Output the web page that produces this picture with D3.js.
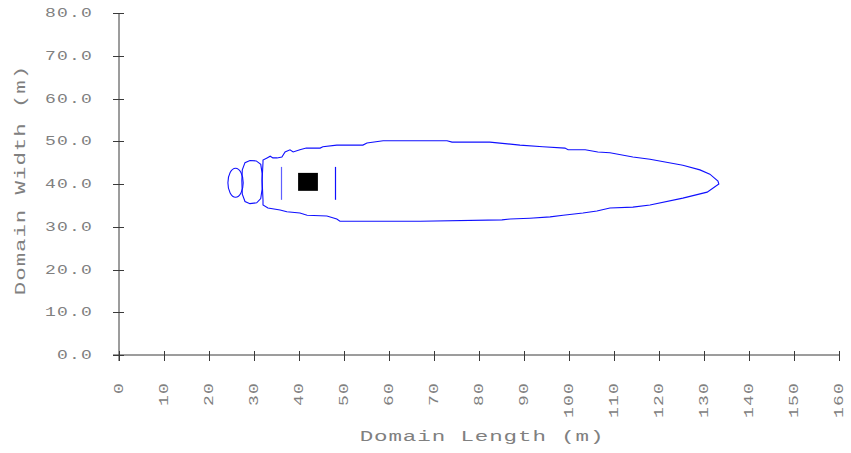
<!DOCTYPE html>
<html>
<head>
<meta charset="utf-8">
<script src="https://cdn.jsdelivr.net/npm/d3@7"></script>
<style>
  html, body { margin: 0; padding: 0; background: #fff; }
  svg { display: block; }
  .lab { font-family: "Liberation Mono", "DejaVu Sans Mono", monospace; fill: #808080; }
</style>
</head>
<body>
<svg id="chart" width="851" height="453"></svg>
<script>
/* contour plot: plume outline over a 160 x 80 m domain */
var xTicks = [0, 10, 20, 30, 40, 50, 60, 70, 80, 90, 100, 110, 120, 130, 140, 150, 160];
var yTicks = [0, 10, 20, 30, 40, 50, 60, 70, 80];
var xTitle = "Domain Length (m)", yTitle = "Domain Width (m)";

// outer contour, [length, width] in metres (closed)
var outerContour = [
  [32.0,36.3],[31.8,40.9],[32.0,45.1],[32.0,45.6],[32.9,46.1],[33.6,46.5],[34.2,46.1],
  [35.1,46.1],[36.2,46.3],[36.9,47.5],[38.0,48.0],[38.7,47.5],[40.2,48.0],[41.6,48.4],
  [44.7,48.4],[45.3,48.7],[48.4,49.1],[54.2,49.1],[55.1,49.6],[58.7,50.1],[72.9,50.1],
  [74.0,49.8],[82.4,49.8],[89.1,49.1],[94.2,48.7],[99.1,48.4],[99.8,48.0],[103.6,48.0],
  [106.4,47.5],[109.1,47.3],[114.2,46.3],[118.0,45.8],[125.3,44.4],[129.1,43.3],
  [131.3,42.3],[133.1,40.7],[133.3,40.0],[130.7,38.1],[125.3,36.7],[118.0,35.1],
  [114.2,34.6],[109.1,34.4],[106.2,33.7],[103.1,33.2],[98.7,32.7],[95.8,32.3],
  [91.3,32.0],[86.9,31.8],[85.1,31.6],[66.9,31.3],[49.1,31.3],[48.4,31.8],[46.2,32.5],
  [41.8,32.7],[40.2,33.2],[37.3,33.5],[35.8,33.9],[33.1,34.4],[32.0,35.1]
];
// small ring just upwind of the main outline
var ringContour = [
  [27.3,40.8],[27.4,43.3],[28.0,45.0],[29.1,45.5],[30.5,45.4],[31.5,44.6],[31.8,42.5],
  [31.8,38.8],[31.5,36.6],[30.6,35.6],[29.1,35.4],[28.0,35.9],[27.4,37.6]
];
// leftmost small ellipse: [cx, cy, rx, ry]
var ellipses = [[25.9, 40.3, 1.7, 3.4]];
// short vertical contour segments: [x, y0, y1]
var segments = [[35.9, 36.3, 44.0], [48.0, 36.3, 44.0]];
// source block: [x0, x1, y0, y1]
var source = [39.8, 44.2, 38.4, 42.6];

var svg = d3.select("#chart");
var x = d3.scaleLinear().domain([0, 160]).range([119, 839]);
var y = d3.scaleLinear().domain([0, 80]).range([355, 13]);
var AX = "#3a3a3a";

// the original uses a wide, light typewriter face: stretch the mono font sideways
function label(tr, txt, size, ls, anchor) {
  return svg.append("text").attr("class", "lab").attr("transform", tr + " scale(1.5,1)")
    .attr("text-anchor", anchor).attr("font-size", size).attr("letter-spacing", ls).text(txt);
}

// axis lines (they overshoot a little past the origin)
svg.append("line").attr("x1", x(0)).attr("x2", x(0)).attr("y1", y(80)).attr("y2", y(0) + 6)
  .attr("stroke", AX);
svg.append("line").attr("x1", x(0) - 6).attr("x2", x(160)).attr("y1", y(0)).attr("y2", y(0))
  .attr("stroke", AX);

yTicks.forEach(function (t) {
  svg.append("line").attr("x1", x(0) - 6).attr("x2", x(0) + 5)
    .attr("y1", Math.round(y(t)) + 0.5).attr("y2", Math.round(y(t)) + 0.5).attr("stroke", AX);
  label("translate(93," + (y(t) + 4) + ")", d3.format(".1f")(t), 12, 0.8, "end");
});
xTicks.forEach(function (t) {
  var px = Math.round(x(t)) + 0.5;
  svg.append("line").attr("x1", px).attr("x2", px).attr("y1", y(0) - 4).attr("y2", y(0) + 6)
    .attr("stroke", AX);
  label("translate(" + (x(t) + 4) + ",382) rotate(-90)", t, 12, 0.8, "end");
});

label("translate(482,441)", xTitle, 15, 0.6, "middle");
label("translate(25,180) rotate(-90)", yTitle, 15, 0.6, "middle");

// contours
var line = d3.line().x(function (d) { return x(d[0]); }).y(function (d) { return y(d[1]); })
  .curve(d3.curveLinearClosed);
var BLUE = "#1010ff";
[outerContour, ringContour].forEach(function (c) {
  svg.append("path").attr("d", line(c)).attr("fill", "none").attr("stroke", BLUE).attr("stroke-width", 1.1);
});
ellipses.forEach(function (e) {
  svg.append("ellipse").attr("cx", x(e[0])).attr("cy", y(e[1]))
    .attr("rx", x(e[2]) - x(0)).attr("ry", y(0) - y(e[3]))
    .attr("fill", "none").attr("stroke", BLUE).attr("stroke-width", 1.1);
});
segments.forEach(function (s, i) {
  var px = Math.round(x(s[0])) + 0.5;
  svg.append("line").attr("x1", px).attr("x2", px).attr("y1", y(s[1])).attr("y2", y(s[2]))
    .attr("stroke", i === 0 ? "#6060ff" : BLUE).attr("stroke-width", 1.2);
});
svg.append("rect").attr("x", x(source[0])).attr("y", y(source[3]))
  .attr("width", x(source[1]) - x(source[0])).attr("height", y(source[2]) - y(source[3]))
  .attr("fill", "#000");
</script>
</body>
</html>
